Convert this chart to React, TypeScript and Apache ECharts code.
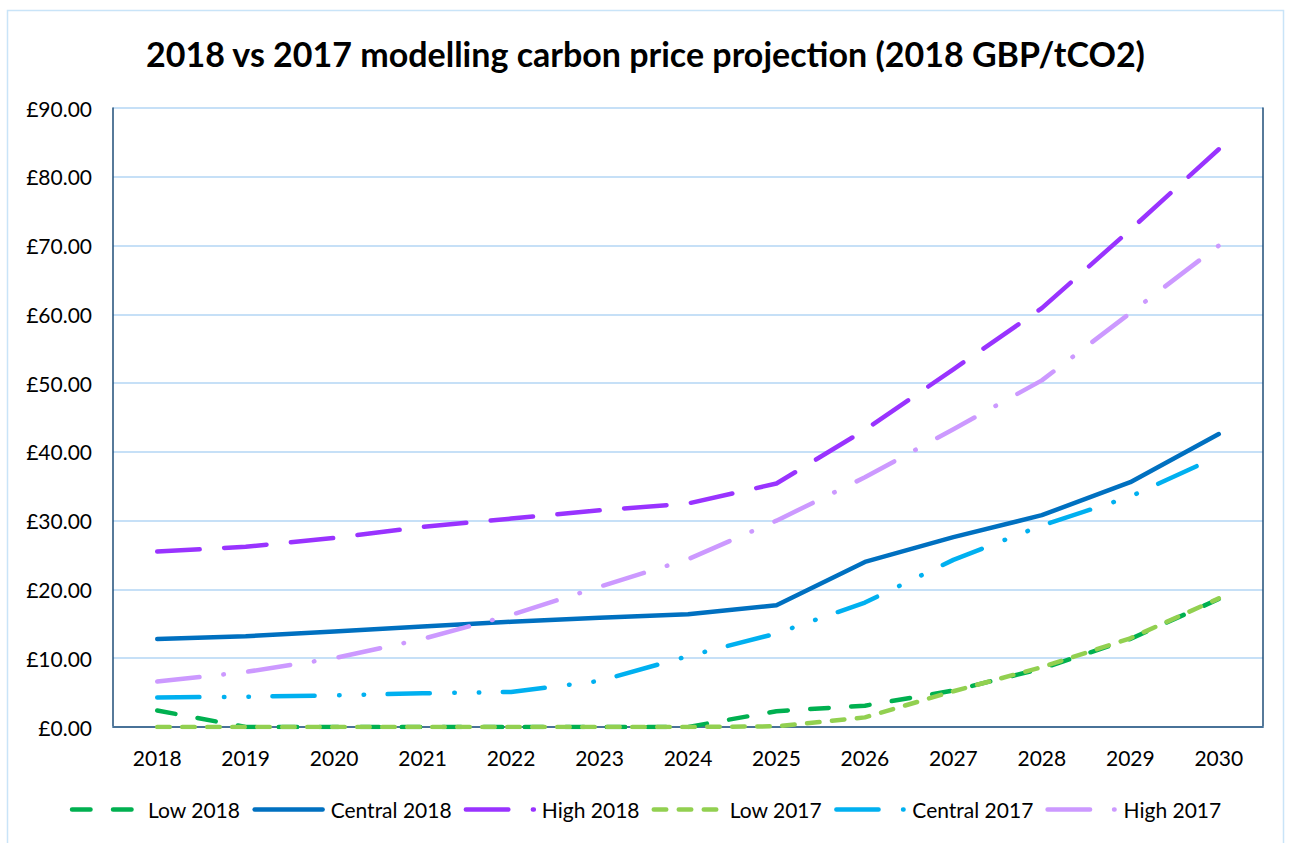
import React, { useEffect, useRef } from "react";
import * as echarts from "echarts";

const years = ["2018", "2019", "2020", "2021", "2022", "2023", "2024", "2025", "2026", "2027", "2028", "2029", "2030"];
const low2018 = [2.4, 0, 0, 0, 0, 0, 0, 2.3, 3.1, 5.3, 8.5, 12.8, 18.6];
const central2018 = [12.8, 13.2, 13.9, 14.6, 15.3, 15.9, 16.4, 17.7, 24.0, 27.6, 30.8, 35.6, 42.6];
const high2018 = [25.5, 26.2, 27.5, 29.1, 30.3, 31.5, 32.5, 35.4, 43.2, 52.0, 60.9, 72.3, 84.0];
const low2017 = [0, 0, 0, 0, 0, 0, 0, 0.1, 1.4, 5.2, 8.7, 12.9, 18.7];
const central2017 = [4.3, 4.4, 4.6, 4.9, 5.1, 6.7, 10.3, 13.6, 18.1, 24.3, 29.3, 33.5, 39.4];
const high2017 = [6.6, 8.0, 10.0, 12.8, 16.3, 20.4, 24.4, 30.0, 36.3, 43.3, 50.4, 60.2, 70.0];

const FONT = "Lato, 'Open Sans', sans-serif";

export default function App() {
  const ref = useRef<HTMLDivElement>(null);
  useEffect(() => {
    if (!ref.current) return;
    const chart = echarts.init(ref.current, null, { renderer: "svg" });
    const mk = (name: string, data: number[], color: string, type: any) => ({
      name,
      type: "line",
      data,
      symbol: "none",
      xAxisIndex: 0,
      yAxisIndex: 0,
      lineStyle: { color, width: 4.5, type, cap: "round", join: "round" },
      itemStyle: { color },
      emphasis: { disabled: true },
    });
    chart.setOption({
      animation: false,
      textStyle: { fontFamily: FONT },
      title: {
        text: "2018 vs 2017 modelling carbon price projection (2018 GBP/tCO2)",
        left: "center",
        top: 31,
        textStyle: { fontFamily: FONT, fontSize: 34, fontWeight: "bold", color: "#000" },
      },
      graphic: [
        {
          type: "rect",
          shape: { x: 7.5, y: 10.5, width: 1276, height: 840 },
          style: { fill: "none", stroke: "#C9E4F8", lineWidth: 1.5 },
          silent: true,
        },
      ],
      legend: {
        bottom: 18,
        left: "center",
        itemWidth: 68,
        itemHeight: 14,
        itemGap: 12,
        itemStyle: { opacity: 0 },
        lineStyle: { width: 4.5, cap: "round" },
        textStyle: { fontFamily: FONT, fontSize: 21, color: "#000", padding: [0, 0, 0, 3] },
        data: ["Low 2018", "Central 2018", "High 2018", "Low 2017", "Central 2017", "High 2017"],
      },
      grid: { left: 113, right: 28, top: 108, bottom: 116, containLabel: false },
      xAxis: [
        {
          type: "category",
          data: years,
          boundaryGap: true,
          axisLine: { show: true, lineStyle: { color: "#C6E0F7", width: 2 } },
          axisTick: { show: false },
          axisLabel: { fontFamily: FONT, fontSize: 21, color: "#000", margin: 20 },
          splitLine: { show: false },
        },
        {
          type: "category",
          data: years,
          position: "top",
          axisLine: { show: true, lineStyle: { color: "#1F4E79", width: 1.5 } },
          axisTick: { show: false },
          axisLabel: { show: false },
          splitLine: { show: false },
        },
      ],
      yAxis: [
        {
          type: "value",
          min: 0,
          max: 90,
          interval: 10,
          axisLine: { show: true, lineStyle: { color: "#1F4E79", width: 1.5 } },
          axisTick: { show: false },
          axisLabel: {
            fontFamily: FONT,
            fontSize: 21,
            color: "#000",
            margin: 21,
            formatter: (v: number) => "£" + v.toFixed(2),
          },
          splitLine: { show: true, lineStyle: { color: "#C6E0F7", width: 2 } },
        },
        {
          type: "value",
          min: 0,
          max: 90,
          interval: 10,
          position: "right",
          axisLine: { show: true, lineStyle: { color: "#1F4E79", width: 1.5 } },
          axisTick: { show: false },
          axisLabel: { show: false },
          splitLine: { show: false },
        },
      ],
      series: [
        mk("Low 2018", low2018, "#00B050", [18.5, 22.5]),
        mk("Central 2018", central2018, "#0070C0", "solid"),
        mk("High 2018", high2018, "#9933FF", [42.5, 24.5]),
        mk("Low 2017", low2017, "#92D050", [12.5, 12.5]),
        mk("Central 2017", central2017, "#00B0F0", [42.2, 24.5, 0.5, 24, 0.5, 23.5]),
        mk("High 2017", high2017, "#CC99FF", [42.5, 24, 0.5, 24.5]),
      ],
    });
    return () => chart.dispose();
  }, []);
  return <div ref={ref} style={{ width: 1291, height: 843, position: "absolute", left: 0, top: 0 }} />;
}
